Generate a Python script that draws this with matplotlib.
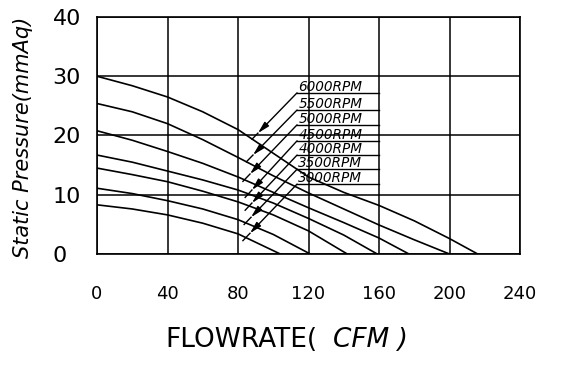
import matplotlib.pyplot as plt

# fan curves: flowrate (CFM) vs static pressure (mmAq)
rpm_labels = ["6000RPM", "5500RPM", "5000RPM", "4500RPM", "4000RPM", "3500RPM", "3000RPM"]

cfm_6000 = [0, 20, 40, 60, 80, 100, 120, 140, 160, 180, 200, 216]
p_6000 = [30, 28.4, 26.5, 24.0, 21.0, 17.0, 13.0, 10.4, 8.2, 5.6, 2.6, 0]
cfm_5500 = [0, 20, 40, 60, 80, 100, 120, 140, 160, 180, 200]
p_5500 = [25.4, 24.0, 22.0, 19.3, 16.3, 13.2, 10.3, 7.6, 4.9, 2.4, 0]
cfm_5000 = [0, 20, 40, 60, 80, 100, 120, 140, 160, 177]
p_5000 = [20.8, 19.2, 17.3, 15.3, 13.0, 10.4, 7.8, 5.3, 2.7, 0]
cfm_4500 = [0, 20, 40, 60, 80, 100, 120, 140, 159]
p_4500 = [16.7, 15.5, 14.0, 12.5, 10.8, 8.6, 6.0, 3.2, 0]
cfm_4000 = [0, 20, 40, 60, 80, 100, 120, 142]
p_4000 = [14.5, 13.4, 12.2, 10.6, 8.8, 6.6, 3.9, 0]
cfm_3500 = [0, 20, 40, 60, 80, 100, 121]
p_3500 = [11.1, 10.2, 9.0, 7.6, 5.8, 3.3, 0]
cfm_3000 = [0, 20, 40, 60, 80, 104]
p_3000 = [8.3, 7.6, 6.6, 5.2, 3.4, 0]

curves = [(cfm_6000, p_6000), (cfm_5500, p_5500), (cfm_5000, p_5000),
          (cfm_4500, p_4500), (cfm_4000, p_4000), (cfm_3500, p_3500),
          (cfm_3000, p_3000)]

# label underline heights and arrow tips (data units)
label_y = [27.2, 24.3, 21.8, 19.1, 16.7, 14.3, 11.8]
label_x0, label_x1 = 113.5, 160
tip_x = [91.3, 88.5, 86.8, 87.9, 87.9, 87.4, 86.8]
tip_y = [20.4, 16.7, 13.5, 10.8, 8.6, 6.2, 3.5]

xticks = [0, 40, 80, 120, 160, 200, 240]
yticks = [0, 10, 20, 30, 40]

fig = plt.figure(figsize=(5.75, 3.69), dpi=100)
ax = fig.add_axes([97 / 575, 1 - 254 / 369, 423 / 575, 237 / 369])

for x, y in curves:
    ax.plot(x, y, color="black", lw=1.2)

for lab, ly, tx, ty in zip(rpm_labels, label_y, tip_x, tip_y):
    ax.plot([label_x0, label_x1], [ly, ly], color="black", lw=1.0)
    ax.text(label_x0 + 0.8, ly + 0.35, lab, fontsize=9.8, style="italic",
            ha="left", va="baseline", color="black")
    ax.annotate("", xy=(tx, ty), xytext=(label_x0, ly),
                arrowprops=dict(arrowstyle="-|>,head_length=0.7,head_width=0.18",
                                color="black", lw=1.0, shrinkA=0, shrinkB=0,
                                mutation_scale=10))
    # leader continues a little past the arrowhead
    ex = tx + 0.15 * (tx - label_x0)
    ey = ty + 0.15 * (ty - ly)
    ax.plot([tx, ex], [ty, ey], color="black", lw=1.0)

ax.set_xlim(0, 240)
ax.set_ylim(0, 40)
ax.set_xticks(xticks)
ax.set_yticks(yticks)
ax.grid(True, color="black", lw=1.1)
ax.set_axisbelow(True)
for s in ax.spines.values():
    s.set_linewidth(1.2)
ax.tick_params(axis="both", length=0)
ax.tick_params(axis="x", labelsize=13, pad=22)
ax.tick_params(axis="y", labelsize=16, pad=32)
for t in ax.get_yticklabels():
    t.set_horizontalalignment("left")

fig.text(165 / 575, 1 - 340 / 369, "FLOWRATE(", fontsize=19, ha="left", va="center")
fig.text(333 / 575, 1 - 340 / 369, "CFM )", fontsize=19, style="italic",
         ha="left", va="center")
fig.text(23 / 575, 1 - 137 / 369, "Static Pressure(mmAq)", fontsize=15,
         style="italic", rotation=90, ha="center", va="center")

fig.savefig("out.png", dpi=100)
